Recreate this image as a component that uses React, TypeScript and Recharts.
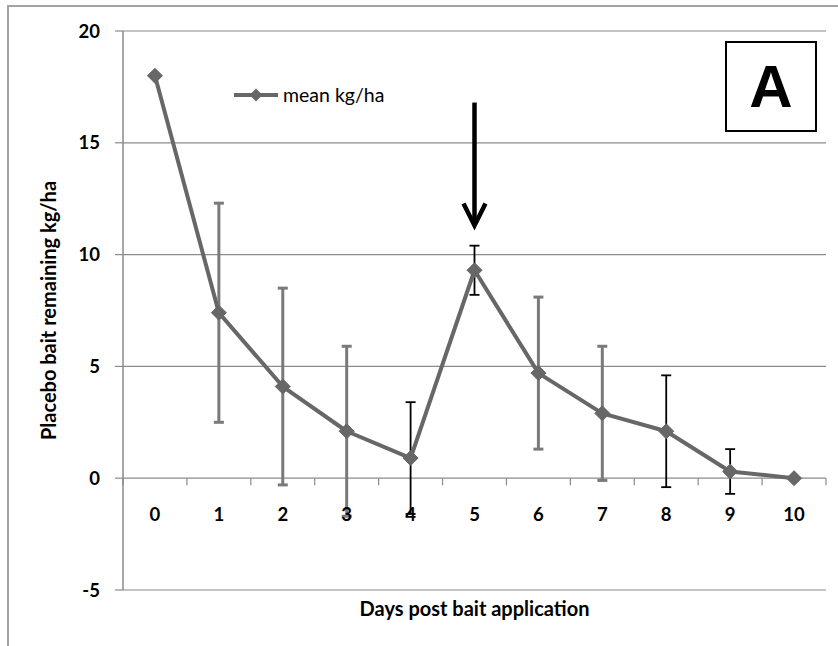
import React from 'react';
import { LineChart, Line, XAxis, YAxis, CartesianGrid, ErrorBar, ReferenceLine, Legend, Label } from 'recharts';

const days = [0, 1, 2, 3, 4, 5, 6, 7, 8, 9, 10];
const meanKgHa = [18, 7.4, 4.1, 2.1, 0.9, 9.3, 4.7, 2.9, 2.1, 0.3, 0];
// the error bars come in two colours in the original figure
const grayErr = [null, 4.9, 4.4, 3.8, null, null, 3.4, 3.0, null, null, null];
const blackErr = [null, null, null, null, 2.5, 1.1, null, null, 2.5, 1.0, null];
const yTicks = [-5, 0, 5, 10, 15, 20];

const data = days.map((d, i) => ({
  day: d,
  mean: meanKgHa[i],
  errGray: grayErr[i],
  errBlack: blackErr[i],
}));

// category edges for the little tick marks on the zero line
const edges = [...days.map((d) => d - 0.5), days[days.length - 1] + 0.5];

const W = 838;
const H = 646;
const margin = { top: 31, right: 12, left: 8, bottom: 26 };
const yAxisW = 115;
const xAxisH = 30;
const plotTop = margin.top;
const plotH = H - margin.top - margin.bottom - xAxisH;
const yZero = plotTop + ((20 - 0) / 25) * plotH;

const lineColor = '#676767';
const font = 'Lato, "Open Sans", sans-serif';

const Diamond = (props: any) => {
  const { cx, cy } = props;
  if (cx == null || cy == null) return null;
  const r = 7.5;
  return (
    <polygon
      points={`${cx},${cy - r} ${cx + r},${cy} ${cx},${cy + r} ${cx - r},${cy}`}
      fill={lineColor}
      stroke={lineColor}
    />
  );
};

const DayTick = (props: any) => {
  const { x, payload } = props;
  return (
    <text x={x} y={yZero + 43} textAnchor="middle" fontSize={18.5} fontWeight={700} fill="#000" fontFamily={font}>
      {payload.value}
    </text>
  );
};

const Arrow = (props: any) => {
  const { x1, y1, x2, y2 } = props;
  return (
    <g>
      <line x1={x1} y1={y1} x2={x2} y2={y2 - 2} stroke="#000" strokeWidth={4.5} />
      <polyline
        points={`${x2 - 11},${y2 - 22} ${x2},${y2} ${x2 + 11},${y2 - 22}`}
        fill="none"
        stroke="#000"
        strokeWidth={4.5}
      />
    </g>
  );
};

const LegendContent = () => (
  <div style={{ display: 'flex', alignItems: 'center', fontFamily: font, fontSize: 19.5, color: '#000' }}>
    <svg width={46} height={16}>
      <line x1={0} y1={8} x2={44} y2={8} stroke={lineColor} strokeWidth={4} />
      <polygon points="22,1.5 28.5,8 22,14.5 15.5,8" fill={lineColor} />
    </svg>
    <span style={{ marginLeft: 3 }}>mean kg/ha</span>
  </div>
);

export default function App() {
  return (
    <div style={{ position: 'fixed', left: 0, top: 0, width: W, height: H, background: '#fff', overflow: 'hidden' }}>
      <div
        style={{
          position: 'absolute',
          left: 7,
          top: 5,
          width: W + 20,
          height: H + 20,
          border: '2px solid #a3a3a3',
        }}
      />
      <LineChart width={W} height={H} data={data} margin={margin} style={{ position: 'absolute', left: 0, top: 0 }}>
        <CartesianGrid vertical={false} stroke="#8a8a8a" strokeWidth={1.2} />
        <XAxis
          type="number"
          dataKey="day"
          domain={[-0.5, 10.5]}
          ticks={days}
          axisLine={false}
          tickLine={false}
          height={xAxisH}
          tick={<DayTick />}
        >
          <Label
            content={(p: any) => {
              const vb = p.viewBox;
              return (
                <text
                  x={vb.x + vb.width / 2}
                  y={vb.y + 26}
                  textAnchor="middle"
                  fontSize={20}
                  fontWeight={700}
                  fill="#000"
                  fontFamily={font}
                >
                  Days post bait application
                </text>
              );
            }}
          />
        </XAxis>
        <YAxis
          type="number"
          domain={[-5, 20]}
          ticks={yTicks}
          width={yAxisW}
          tickSize={8}
          tickMargin={15}
          axisLine={{ stroke: '#8a8a8a', strokeWidth: 1.5 }}
          tickLine={{ stroke: '#8a8a8a', strokeWidth: 1.2 }}
          tick={{ fill: '#000', fontSize: 18.5, fontWeight: 700, fontFamily: font }}
        >
          <Label
            content={(p: any) => {
              const vb = p.viewBox;
              const cx = vb.x + 40;
              const cy = vb.y + vb.height / 2;
              return (
                <text
                  x={cx}
                  y={cy}
                  transform={`rotate(-90, ${cx}, ${cy})`}
                  textAnchor="middle"
                  dominantBaseline="central"
                  fontSize={20}
                  fontWeight={700}
                  fill="#000"
                  fontFamily={font}
                >
                  Placebo bait remaining kg/ha
                </text>
              );
            }}
          />
        </YAxis>
        {edges.map((e) => (
          <ReferenceLine
            key={e}
            segment={[
              { x: e, y: 0 },
              { x: e, y: -0.32 },
            ]}
            stroke="#8a8a8a"
            strokeWidth={1.2}
          />
        ))}
        <ReferenceLine
          segment={[
            { x: 5, y: 16.8 },
            { x: 5, y: 11.3 },
          ]}
          shape={<Arrow />}
        />
        <Legend
          layout="vertical"
          align="center"
          verticalAlign="middle"
          content={<LegendContent />}
          wrapperStyle={{ left: 234, top: 83, width: 220 }}
        />
        <Line
          type="linear"
          dataKey="mean"
          name="mean kg/ha"
          stroke={lineColor}
          strokeWidth={4}
          strokeLinejoin="round"
          dot={<Diamond />}
          activeDot={false}
          isAnimationActive={false}
        >
          <ErrorBar dataKey="errGray" direction="y" width={5} stroke="#7a7a7a" strokeWidth={3} />
          <ErrorBar dataKey="errBlack" direction="y" width={5} stroke="#000" strokeWidth={1.8} />
        </Line>
      </LineChart>
      <div
        style={{
          position: 'absolute',
          left: 725,
          top: 41,
          width: 88,
          height: 87,
          border: '2px solid #000',
          display: 'flex',
          alignItems: 'center',
          justifyContent: 'center',
          fontFamily: '"Liberation Sans", Arial, sans-serif',
          fontWeight: 700,
          fontSize: 60,
          lineHeight: 1,
          color: '#000',
        }}
      >
        A
      </div>
    </div>
  );
}
